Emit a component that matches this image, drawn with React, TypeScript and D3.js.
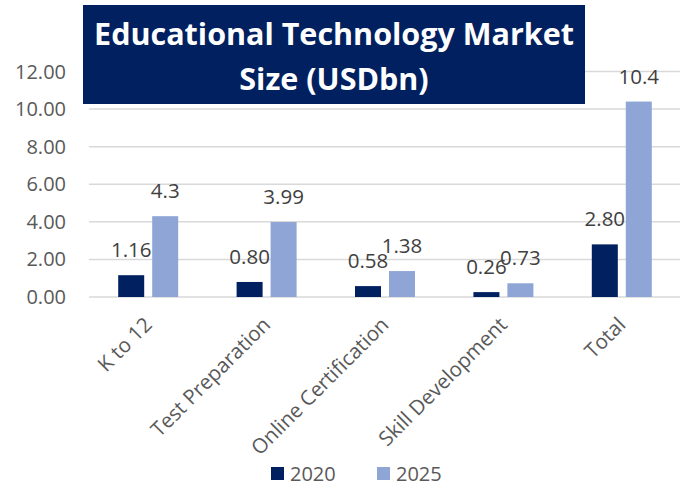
import React, { useEffect, useRef } from 'react';
import * as d3 from 'd3';

const categories = ['K to 12', 'Test Preparation', 'Online Certification', 'Skill Development', 'Total'];
const seriesNames = ['2020', '2025'];
const values2020 = [1.16, 0.8, 0.58, 0.26, 2.8];
const values2025 = [4.3, 3.99, 1.38, 0.73, 10.4];
const labels2020 = ['1.16', '0.80', '0.58', '0.26', '2.80'];
const labels2025 = ['4.3', '3.99', '1.38', '0.73', '10.4'];
const yTicks = [0, 2, 4, 6, 8, 10, 12];
const titleLines = ['Educational Technology Market', 'Size (USDbn)'];

const WIDTH = 680;
const HEIGHT = 487;
const COLORS = ['#002060', '#8FA5D5'];
const FONT = "'Open Sans', 'DejaVu Sans', sans-serif";

export default function App() {
  const svgRef = useRef<SVGSVGElement | null>(null);

  useEffect(() => {
    const svg = d3.select(svgRef.current);
    svg.selectAll('*').remove();

    const x = d3.scaleBand<string>().domain(categories).range([89, 681]).padding(0);
    const groupWidth = 60;
    const xSub = d3.scaleBand<string>().domain(seriesNames).range([0, groupWidth]).paddingInner(0.235);
    const y = d3.scaleLinear().domain([0, 12]).range([297, 71.5]);

    const rows = categories.map((c, i) => ({
      cat: c,
      bars: [
        { s: '2020', v: values2020[i], label: labels2020[i] },
        { s: '2025', v: values2025[i], label: labels2025[i] },
      ],
    }));

    // gridlines
    svg.append('g')
      .selectAll('line')
      .data(yTicks)
      .enter()
      .append('line')
      .attr('x1', 89)
      .attr('x2', WIDTH)
      .attr('y1', d => y(d))
      .attr('y2', d => y(d))
      .attr('stroke', '#d9d9d9')
      .attr('stroke-width', 1.5);

    // y tick labels
    svg.append('g')
      .selectAll('text')
      .data(yTicks)
      .enter()
      .append('text')
      .attr('x', 66)
      .attr('y', d => y(d) + 7)
      .attr('text-anchor', 'end')
      .attr('font-family', FONT)
      .attr('font-size', 20)
      .attr('fill', '#595959')
      .text(d => d.toFixed(2));

    const groups = svg.append('g')
      .selectAll('g')
      .data(rows)
      .enter()
      .append('g')
      .attr('transform', d => `translate(${(x(d.cat) ?? 0) + (x.bandwidth() - groupWidth) / 2},0)`);

    groups.selectAll('rect')
      .data(d => d.bars)
      .enter()
      .append('rect')
      .attr('x', d => xSub(d.s) ?? 0)
      .attr('width', xSub.bandwidth())
      .attr('y', d => y(d.v))
      .attr('height', d => y(0) - y(d.v))
      .attr('fill', (d, i) => COLORS[i]);

    // x labels, rotated
    svg.append('g')
      .selectAll('text')
      .data(categories)
      .enter()
      .append('text')
      .attr('transform', d => `translate(${(x(d) ?? 0) + x.bandwidth() / 2 + 5},${y(0) + 29}) rotate(-45)`)
      .attr('text-anchor', 'end')
      .attr('font-family', FONT)
      .attr('font-size', 20.5)
      .attr('fill', '#595959')
      .text(d => d);

    // title box
    svg.append('rect')
      .attr('x', 83)
      .attr('y', 5)
      .attr('width', 502)
      .attr('height', 99)
      .attr('fill', '#002060');

    svg.append('g')
      .selectAll('text')
      .data(titleLines)
      .enter()
      .append('text')
      .attr('x', 334)
      .attr('y', (d, i) => 45 + i * 45)
      .attr('text-anchor', 'middle')
      .attr('font-family', FONT)
      .attr('font-weight', 'bold')
      .attr('font-size', 30.5)
      .attr('fill', '#ffffff')
      .text(d => d);

    // value labels
    groups.selectAll('text')
      .data(d => d.bars)
      .enter()
      .append('text')
      .attr('x', d => (xSub(d.s) ?? 0) + xSub.bandwidth() / 2)
      .attr('y', d => y(d.v) - 18)
      .attr('text-anchor', 'middle')
      .attr('font-family', FONT)
      .attr('font-size', 20.5)
      .attr('fill', '#404040')
      .text(d => d.label);

    // legend
    const legend = svg.append('g');
    const legendX = [271, 377];
    seriesNames.forEach((s, i) => {
      legend.append('rect')
        .attr('x', legendX[i])
        .attr('y', 467)
        .attr('width', 13)
        .attr('height', 13)
        .attr('fill', COLORS[i]);
      legend.append('text')
        .attr('x', legendX[i] + 19)
        .attr('y', 481)
        .attr('font-family', FONT)
        .attr('font-size', 20)
        .attr('fill', '#595959')
        .text(s);
    });
  }, []);

  return (
    <div style={{ position: 'absolute', top: 0, left: 0, width: WIDTH, height: HEIGHT, background: '#fff' }}>
      <svg ref={svgRef} width={WIDTH} height={HEIGHT} style={{ display: 'block' }} />
    </div>
  );
}
